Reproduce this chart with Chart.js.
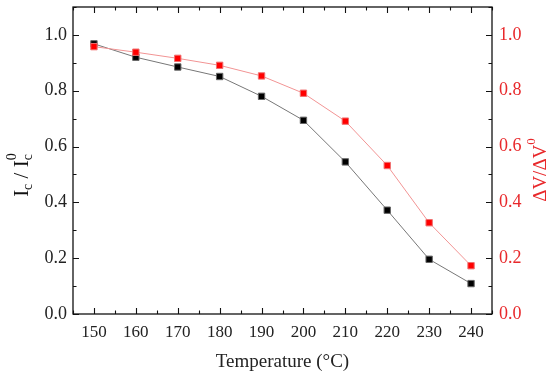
<!DOCTYPE html>
<html><head><meta charset="utf-8">
<script src="https://cdn.jsdelivr.net/npm/chart.js@4"></script>
<style>html,body{margin:0;padding:0;background:#fff}</style>
</head><body>
<canvas id="c" width="550" height="378"></canvas>
<script>
const temps = [150,160,170,180,190,200,210,220,230,240];
const icRatio = [0.968,0.920,0.885,0.851,0.780,0.694,0.545,0.372,0.196,0.109];
const dvRatio = [0.958,0.938,0.916,0.891,0.853,0.791,0.691,0.532,0.327,0.173];
const xTicks = [150,160,170,180,190,200,210,220,230,240];
const yTicks = [0,0.2,0.4,0.6,0.8,1.0];

const FONT = "'Liberation Serif','Times New Roman',serif";
const RED = '#e8282b';

const framePlugin = {
  id: 'frame',
  afterDatasetsDraw(chart) {
    const ctx = chart.ctx, a = chart.chartArea;
    const xs = chart.scales.x, yl = chart.scales.y, yr = chart.scales.y2;
    ctx.save();
    ctx.strokeStyle = '#111';
    ctx.lineWidth = 1.3;
    ctx.strokeRect(a.left, a.top, a.right - a.left, a.bottom - a.top);
    ctx.lineWidth = 1.1;
    ctx.beginPath();
    for (let v = 145; v <= 245.001; v += 5) {
      const major = Math.abs(v % 10) < 1e-6;
      const L = major ? 6 : 3.5;
      const px = Math.round(xs.getPixelForValue(v)) + 0.5;
      ctx.moveTo(px, a.bottom); ctx.lineTo(px, a.bottom - L);
      ctx.moveTo(px, a.top); ctx.lineTo(px, a.top + L);
    }
    for (let i = 0; i <= 11; i++) {
      const v = i / 10;
      const major = i % 2 === 0;
      const L = major ? 6 : 3.5;
      const py = Math.round(yl.getPixelForValue(v)) + 0.5;
      ctx.moveTo(a.left, py); ctx.lineTo(a.left + L, py);
      const pyr = Math.round(yr.getPixelForValue(v)) + 0.5;
      ctx.moveTo(a.right, pyr); ctx.lineTo(a.right - L, pyr);
    }
    ctx.stroke();
    ctx.restore();
  },
  afterDraw(chart) {
    const ctx = chart.ctx;
    ctx.save();
    const big = "21px " + FONT, small = "14px " + FONT;
    const parts = [
      {t:'I', f:big, dy:0}, {t:'c', f:small, dy:4},
      {t:' / I', f:big, dy:0}, {t:'c', f:small, dy:4}
    ];
    ctx.fillStyle = '#111';
    ctx.translate(21, 172);
    ctx.rotate(-Math.PI/2);
    let w = 0;
    parts.forEach(p => { ctx.font = p.f; p.w = ctx.measureText(p.t).width; w += p.w; });
    ctx.font = small; const supW = ctx.measureText('0').width;
    let x = -w/2 - supW/2;
    ctx.textBaseline = 'alphabetic';
    let lastX = 0;
    parts.forEach((p, i) => {
      ctx.font = p.f; ctx.fillText(p.t, x, 7 + p.dy);
      if (i === 3) lastX = x;
      x += p.w;
    });
    ctx.font = small; ctx.fillText('0', lastX, -5);
    ctx.restore();

    ctx.save();
    ctx.fillStyle = RED;
    ctx.translate(539, 170);
    ctx.rotate(-Math.PI/2);
    const big2 = "19px " + FONT, small2 = "13px " + FONT;
    ctx.font = big2;
    const main = 'ΔV/ΔV';
    const mw = ctx.measureText(main).width;
    ctx.font = small2;
    const sw = ctx.measureText('0').width;
    const x0 = -(mw + sw)/2;
    ctx.font = big2; ctx.fillText(main, x0, 7);
    ctx.font = small2; ctx.fillText('0', x0 + mw, -4);
    ctx.restore();
  }
};

const noPadV = s => { s.paddingTop = 0; s.paddingBottom = 0; };

new Chart(document.getElementById('c'), {
  type: 'line',
  data: {
    datasets: [
      {
        label: 'ΔV/ΔV0',
        data: temps.map((t, i) => ({x: t, y: dvRatio[i]})),
        yAxisID: 'y2',
        borderColor: '#f29494',
        borderWidth: 1,
        pointStyle: 'rect',
        pointRadius: 4.5,
        pointBackgroundColor: '#ff0000',
        pointBorderColor: '#f07070',
        pointBorderWidth: 1,
        order: 0
      },
      {
        label: 'Ic/Ic0',
        data: temps.map((t, i) => ({x: t, y: icRatio[i]})),
        yAxisID: 'y',
        borderColor: '#777777',
        borderWidth: 1,
        pointStyle: 'rect',
        pointRadius: 4.5,
        pointBackgroundColor: '#000000',
        pointBorderColor: '#666666',
        pointBorderWidth: 1,
        order: 1
      }
    ]
  },
  options: {
    responsive: false,
    devicePixelRatio: 1,
    animation: false,
    layout: { padding: { top: 7, left: 0, right: 0, bottom: 0 } },
    plugins: { legend: { display: false }, tooltip: { enabled: false } },
    scales: {
      x: {
        type: 'linear', min: 145, max: 245,
        afterBuildTicks: s => { s.ticks = xTicks.map(v => ({value: v})); },
        afterFit: s => { s.height = 64; s.paddingLeft = 0; s.paddingRight = 0; },
        grid: { display: false, drawTicks: false },
        border: { display: false },
        ticks: { color: '#222', font: { family: FONT, size: 17 }, padding: 8, maxRotation: 0 },
        title: { display: true, text: 'Temperature (°C)', color: '#222',
                 font: { family: FONT, size: 19 }, padding: { top: 4, bottom: 5 } }
      },
      y: {
        type: 'linear', position: 'left', min: 0, max: 1.1,
        afterBuildTicks: s => { s.ticks = yTicks.map(v => ({value: v})); },
        afterFit: s => { s.width = 73; noPadV(s); },
        grid: { display: false, drawTicks: false },
        border: { display: false },
        ticks: { color: '#222', font: { family: FONT, size: 18 }, padding: 6,
                 callback: v => Number(v).toFixed(1) }
      },
      y2: {
        type: 'linear', position: 'right', min: 0, max: 1.1,
        afterBuildTicks: s => { s.ticks = yTicks.map(v => ({value: v})); },
        afterFit: s => { s.width = 58; noPadV(s); },
        grid: { display: false, drawTicks: false },
        border: { display: false },
        ticks: { color: RED, font: { family: FONT, size: 18 }, padding: 7,
                 callback: v => Number(v).toFixed(1) }
      }
    }
  },
  plugins: [framePlugin]
});
</script>
</body></html>
